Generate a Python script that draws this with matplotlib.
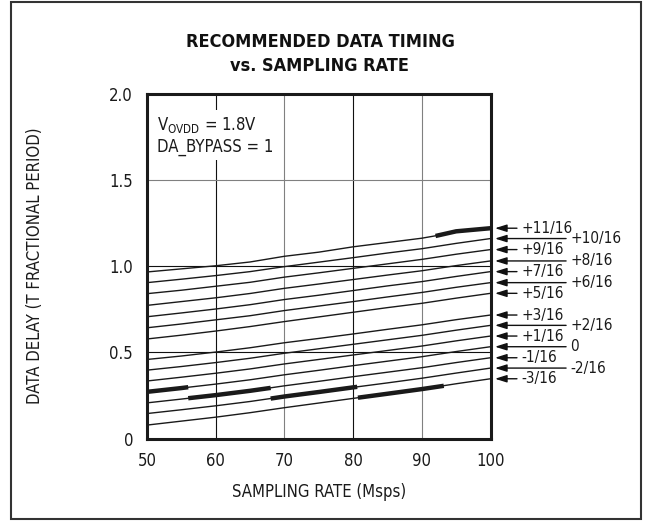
import matplotlib
matplotlib.use("Agg")
import matplotlib.pyplot as plt
from matplotlib.patches import Rectangle

plt.rcParams["font.family"] = ["DejaVu Sans"]
plt.rcParams["font.stretch"] = "condensed"
plt.rcParams["mathtext.fontset"] = "custom"
plt.rcParams["mathtext.rm"] = "DejaVu Sans:stretch=condensed"

# sampling rate (Msps)
rate = [50, 55, 60, 65, 70, 75, 80, 85, 90, 95, 100]

# data delay per setting (fraction of T)
delay_p11 = [0.967, 0.985, 1.003, 1.025, 1.058, 1.082, 1.113, 1.138, 1.163, 1.198, 1.221]
delay_p10 = [0.905, 0.925, 0.946, 0.969, 0.998, 1.024, 1.050, 1.077, 1.102, 1.133, 1.161]
delay_p9  = [0.841, 0.861, 0.884, 0.907, 0.937, 0.962, 0.988, 1.014, 1.040, 1.070, 1.097]
delay_p8  = [0.773, 0.795, 0.817, 0.842, 0.872, 0.897, 0.923, 0.949, 0.974, 1.004, 1.031]
delay_p7  = [0.707, 0.729, 0.752, 0.777, 0.807, 0.832, 0.859, 0.886, 0.911, 0.941, 0.969]
delay_p6  = [0.643, 0.665, 0.689, 0.713, 0.743, 0.769, 0.795, 0.822, 0.848, 0.878, 0.905]
delay_p5  = [0.578, 0.600, 0.624, 0.650, 0.679, 0.706, 0.733, 0.760, 0.785, 0.815, 0.843]
delay_p3  = [0.459, 0.479, 0.502, 0.527, 0.556, 0.581, 0.607, 0.634, 0.660, 0.690, 0.717]
delay_p2  = [0.397, 0.418, 0.441, 0.466, 0.495, 0.521, 0.547, 0.573, 0.599, 0.629, 0.657]
delay_p1  = [0.334, 0.356, 0.379, 0.404, 0.433, 0.459, 0.485, 0.511, 0.537, 0.567, 0.595]
delay_0   = [0.271, 0.293, 0.316, 0.341, 0.370, 0.396, 0.423, 0.449, 0.475, 0.505, 0.533]
delay_m1  = [0.207, 0.229, 0.252, 0.277, 0.306, 0.332, 0.359, 0.385, 0.411, 0.441, 0.469]
delay_m2  = [0.145, 0.167, 0.190, 0.215, 0.244, 0.270, 0.297, 0.323, 0.350, 0.380, 0.409]
delay_m3  = [0.078, 0.101, 0.124, 0.150, 0.179, 0.206, 0.233, 0.260, 0.287, 0.318, 0.347]

curves = [delay_p11, delay_p10, delay_p9, delay_p8, delay_p7, delay_p6, delay_p5,
          delay_p3, delay_p2, delay_p1, delay_0, delay_m1, delay_m2, delay_m3]
labels = ["+11/16", "+10/16", "+9/16", "+8/16", "+7/16", "+6/16", "+5/16",
          "+3/16", "+2/16", "+1/16", "0", "-1/16", "-2/16", "-3/16"]
long_arrow = [False, True, False, True, False, True, False,
              False, True, False, True, False, True, False]

# recommended setting (bold segments)
rec_x = [[50, 55, 56], [56, 60, 65, 68], [68, 70, 75, 80, 80.6],
         [80.7, 85, 90, 93.2], [92, 95, 100]]
rec_y = [[0.271, 0.293, 0.298], [0.234, 0.252, 0.277, 0.294],
         [0.232, 0.244, 0.270, 0.297, 0.300], [0.237, 0.260, 0.287, 0.306],
         [1.176, 1.203, 1.221]]

fig = plt.figure(figsize=(6.49, 5.21), dpi=100)
ax = fig.add_axes([0.2265, 0.1583, 0.5293, 0.6612])

for gx, gc in [(60, "#111111"), (70, "#808080"), (80, "#111111"), (90, "#808080")]:
    ax.axvline(gx, color=gc, lw=0.8, zorder=1)
for gy, gc in [(0.5, "#111111"), (1.0, "#111111"), (1.5, "#808080")]:
    ax.axhline(gy, color=gc, lw=0.8, zorder=1)

for c in curves:
    ax.plot(rate, c, color="#1a1a1a", lw=1.0, zorder=3)
for xs, ys in zip(rec_x, rec_y):
    ax.plot(xs, ys, color="#1a1a1a", lw=3.2, solid_capstyle="butt", zorder=4)

ax.set_xlim(50, 100)
ax.set_ylim(0, 2.0)
ax.set_xticks([50, 60, 70, 80, 90, 100])
ax.set_yticks([0, 0.5, 1.0, 1.5, 2.0])
ax.set_yticklabels(["0", "0.5", "1.0", "1.5", "2.0"])
ax.tick_params(length=0, pad=10, labelsize=12, colors="#1a1a1a")
for side in ("top", "bottom", "left", "right"):
    ax.spines[side].set_linewidth(2.2)
    ax.spines[side].set_color("#1a1a1a")
    ax.spines[side].set_zorder(6)

ax.text(0.03, 0.94, "V$_{\\rm OVDD}$ = 1.8V\nDA_BYPASS = 1", transform=ax.transAxes,
        ha="left", va="top", fontsize=12, color="#1a1a1a", linespacing=1.2,
        bbox=dict(facecolor="white", edgecolor="none", pad=3), zorder=5)

# end-of-curve labels with arrows
trans = ax.get_yaxis_transform()
for c, lab, lg in zip(curves, labels, long_arrow):
    y = c[-1]
    tail = 1.220 if lg else 1.077
    ax.annotate("", xy=(1.013, y), xytext=(tail, y), xycoords=trans, textcoords=trans,
                arrowprops=dict(arrowstyle="-|>,head_length=0.7,head_width=0.22",
                                color="#111111", lw=1.0, shrinkA=0, shrinkB=0),
                annotation_clip=False)
    ax.text(tail + 0.012, y, lab, transform=trans, ha="left", va="center",
            fontsize=11, color="#1a1a1a", clip_on=False)

fig.text(0.493, 0.920, "RECOMMENDED DATA TIMING", ha="center", va="center",
         fontsize=13, fontweight="bold", color="#111111")
fig.text(0.493, 0.874, "vs. SAMPLING RATE", ha="center", va="center",
         fontsize=13, fontweight="bold", color="#111111")
fig.text(0.491, 0.056, "SAMPLING RATE (Msps)", ha="center", va="center",
         fontsize=12, color="#1a1a1a")
fig.text(0.054, 0.49, "DATA DELAY (T FRACTIONAL PERIOD)", ha="center", va="center",
         rotation=90, fontsize=12, color="#1a1a1a")

fig.patches.append(Rectangle((11 / 649, 2 / 521), 630 / 649, 517 / 521,
                             transform=fig.transFigure, fill=False,
                             edgecolor="#333333", lw=1.5))

fig.savefig("out.png", dpi=100)
